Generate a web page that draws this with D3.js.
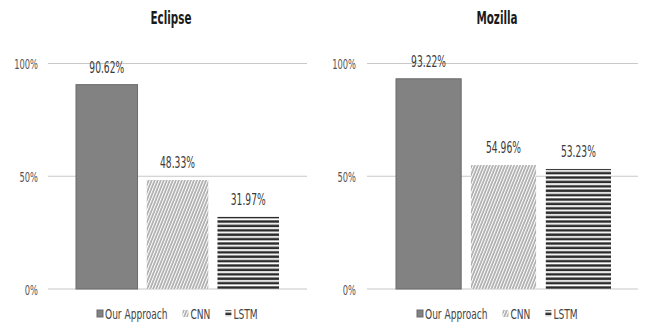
<!DOCTYPE html>
<html>
<head>
<meta charset="utf-8">
<script src="https://cdn.jsdelivr.net/npm/d3@7"></script>
<style>
  body { margin: 0; background: #fff; }
  text { font-family: "DejaVu Sans Condensed", "Liberation Sans Narrow", sans-serif; }
</style>
</head>
<body>
<div id="chart"></div>
<script>
// datos
const series = ['Our Approach', 'CNN', 'LSTM'];
const projects = ['Eclipse', 'Mozilla'];
const eclipseValues = [90.62, 48.33, 31.97];
const mozillaValues = [93.22, 54.96, 53.23];
const tickValues = [0, 50, 100];
const tickLabels = ['0%', '50%', '100%'];

const svg = d3.select('#chart').append('svg')
    .attr('width', 645)
    .attr('height', 323);

// texto estrecho (parecido a Calibri)
function narrowText(parent, x, y, str, opts) {
    const g = parent.append('g')
        .attr('transform', `translate(${x},${y}) scale(${opts.sx || 0.8},1)`);
    return g.append('text')
        .attr('text-anchor', opts.anchor || 'start')
        .attr('font-size', opts.size)
        .attr('font-weight', opts.weight || 'normal')
        .attr('fill', opts.fill)
        .text(str);
}

// patrones para CNN y LSTM
const defs = svg.append('defs');
const hatch = defs.append('pattern')
    .attr('id', 'hatch')
    .attr('patternUnits', 'userSpaceOnUse')
    .attr('width', 2.8).attr('height', 6)
    .attr('patternTransform', 'rotate(22)');
hatch.append('rect').attr('width', 2.8).attr('height', 6).attr('fill', '#fff');
hatch.append('line').attr('x1', 1).attr('y1', 0).attr('x2', 1).attr('y2', 6)
    .attr('stroke', '#808080').attr('stroke-width', 1.1);

const stripes = defs.append('pattern')
    .attr('id', 'stripes')
    .attr('patternUnits', 'userSpaceOnUse')
    .attr('width', 8).attr('height', 4.4);
stripes.append('rect').attr('width', 8).attr('height', 4.4).attr('fill', '#fff');
stripes.append('rect').attr('y', 0.3).attr('width', 8).attr('height', 2.5).attr('fill', '#2b2b2b');

const fills = ['#828282', 'url(#hatch)', 'url(#stripes)'];
const strokes = ['#6a6a6a', 'none', 'none'];

const panels = [
    { name: projects[0], values: eclipseValues, grid: [48, 307], bars: [76, 279], tickX: 38, cx: 171, legendX: 97 },
    { name: projects[1], values: mozillaValues, grid: [367, 638], bars: [396, 611], tickX: 356, cx: 497, legendX: 417 }
];

const yScale = d3.scaleLinear().domain([0, 100]).range([289, 63.5]);

panels.forEach(p => {
    const g = svg.append('g');

    const xScale = d3.scaleBand()
        .domain(series)
        .range(p.bars)
        .paddingInner(0.13)
        .paddingOuter(0);

    // título
    narrowText(g, p.cx, 24, p.name, { anchor: 'middle', size: 17, weight: 'bold', fill: '#1a1a1a', sx: 0.68 });

    // líneas de la cuadrícula
    g.selectAll('.grid').data(tickValues).enter().append('line')
        .attr('x1', p.grid[0]).attr('x2', p.grid[1])
        .attr('y1', d => yScale(d)).attr('y2', d => yScale(d))
        .attr('stroke', '#c8c8c8').attr('stroke-width', 1.2);

    tickValues.forEach((d, i) => {
        narrowText(g, p.tickX, yScale(d) + 5.5, tickLabels[i], { anchor: 'end', size: 14, fill: '#555', sx: 0.66 });
    });

    // barras
    g.selectAll('.bar').data(p.values).enter().append('rect')
        .attr('x', (d, i) => xScale(series[i]))
        .attr('y', d => yScale(d))
        .attr('width', xScale.bandwidth())
        .attr('height', d => yScale(0) - yScale(d))
        .attr('fill', (d, i) => fills[i])
        .attr('stroke', (d, i) => strokes[i]);

    p.values.forEach((d, i) => {
        narrowText(g, xScale(series[i]) + xScale.bandwidth() / 2, yScale(d) - 12, d.toFixed(2) + '%',
            { anchor: 'middle', size: 15, fill: '#3a3a3a', sx: 0.68 });
    });

    // leyenda
    let lx = p.legendX;
    series.forEach((s, i) => {
        g.append('rect')
            .attr('x', lx).attr('y', 310)
            .attr('width', 6).attr('height', 7)
            .attr('fill', fills[i]).attr('stroke', strokes[i]);
        const t = narrowText(g, lx + 8, 319, s, { size: 14, fill: '#444', sx: 0.72 });
        lx += 8 + t.node().getComputedTextLength() * 0.72 + 15;
    });
});
</script>
</body>
</html>
